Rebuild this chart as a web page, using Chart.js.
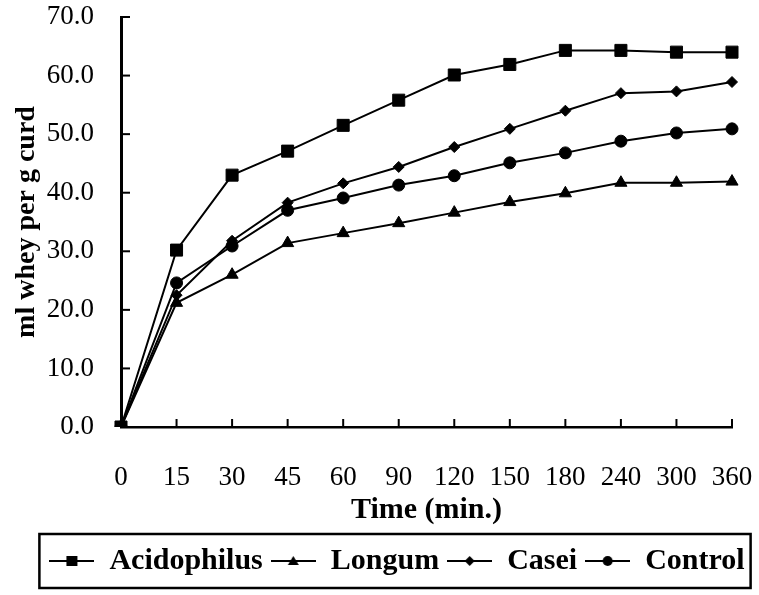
<!DOCTYPE html>
<html>
<head>
<meta charset="utf-8">
<script src="https://cdn.jsdelivr.net/npm/chart.js@4/dist/chart.umd.min.js"></script>
<style>
  html, body { margin: 0; padding: 0; background: #fff; }
  #wrap { width: 759px; height: 595px; }
</style>
</head>
<body>
<div id="wrap"><canvas id="wheyChart"></canvas></div>
<script>
// Whey released over time
const times = ['0', '15', '30', '45', '60', '90', '120', '150', '180', '240', '300', '360'];
const acidophilus = [0, 30.2, 43.0, 47.1, 51.5, 55.8, 60.1, 61.9, 64.3, 64.3, 64.0, 64.0];
const longum = [0, 21.2, 26.0, 31.4, 33.1, 34.8, 36.6, 38.4, 39.9, 41.7, 41.7, 41.9];
const casei = [0, 22.5, 31.8, 38.3, 41.6, 44.4, 47.8, 50.9, 54.0, 57.0, 57.3, 58.9];
const control = [0, 24.6, 30.9, 37.0, 39.1, 41.3, 42.9, 45.1, 46.8, 48.8, 50.2, 50.9];
const yTicks = [0, 10, 20, 30, 40, 50, 60, 70];

const serif = "'Liberation Serif', 'Times New Roman', serif";

// small legend icon: line with the marker in the middle
function legendIcon(style) {
    const c = document.createElement('canvas');
    c.width = 45; c.height = 16;
    const g = c.getContext('2d');
    g.fillStyle = '#000';
    g.strokeStyle = '#000';
    g.lineWidth = 2;
    g.beginPath(); g.moveTo(0, 8); g.lineTo(45, 8); g.stroke();
    g.beginPath();
    if (style === 'rect') g.rect(17, 3, 11, 10);
    else if (style === 'triangle') { g.moveTo(22.5, 3); g.lineTo(28, 12); g.lineTo(17, 12); g.closePath(); }
    else if (style === 'rectRot') { g.moveTo(22.5, 3); g.lineTo(27.5, 8); g.lineTo(22.5, 13); g.lineTo(17.5, 8); g.closePath(); }
    else g.arc(22.5, 8, 5, 0, Math.PI * 2);
    g.fill();
    return c;
}

function series(label, data, style, radius) {
    return {
        label: label,
        data: data,
        borderColor: '#000',
        backgroundColor: '#000',
        borderWidth: 2,
        pointStyle: style,
        pointRadius: radius,
        pointHoverRadius: radius,
        pointBackgroundColor: '#000',
        pointBorderColor: '#000',
        pointBorderWidth: 1,
        tension: 0,
        fill: false,
        icon: legendIcon(style)
    };
}

// inward tick marks and the frame around the legend
const extras = {
    id: 'extras',
    afterDraw(chart) {
        const ctx = chart.ctx;
        const x = chart.scales.x, y = chart.scales.y;
        ctx.save();
        ctx.strokeStyle = '#000';
        ctx.lineWidth = 2;
        y.ticks.forEach((t, i) => {
            const py = y.getPixelForTick(i);
            ctx.beginPath(); ctx.moveTo(y.right, py); ctx.lineTo(y.right + 9, py); ctx.stroke();
        });
        x.ticks.forEach((t, i) => {
            const px = x.getPixelForTick(i);
            ctx.beginPath(); ctx.moveTo(px, x.top); ctx.lineTo(px, x.top - 8); ctx.stroke();
        });
        const boxes = chart.legend.legendHitBoxes;
        if (boxes && boxes.length) {
            let l = Infinity, r = -Infinity, t = Infinity, b = -Infinity;
            boxes.forEach(h => {
                l = Math.min(l, h.left); r = Math.max(r, h.left + h.width);
                t = Math.min(t, h.top); b = Math.max(b, h.top + h.height);
            });
            ctx.lineWidth = 2.5;
            ctx.strokeRect(l - 10, t - 12, (r - l) + 16, (b - t) + 24);
        }
        ctx.restore();
    }
};

new Chart(document.getElementById('wheyChart').getContext('2d'), {
    type: 'line',
    data: {
        labels: times,
        datasets: [
            series('Acidophilus', acidophilus, 'rect', 8.5),
            series('Longum', longum, 'triangle', 7),
            series('Casei', casei, 'rectRot', 5.5),
            series('Control', control, 'circle', 6)
        ]
    },
    options: {
        responsive: true,
        maintainAspectRatio: false,
        animation: false,
        layout: { padding: { left: 35, right: 0, top: 17, bottom: 9 } },
        plugins: {
            tooltip: { enabled: false },
            legend: {
                position: 'bottom',
                labels: {
                    usePointStyle: true,
                    pointStyleWidth: 45,
                    padding: 8,
                    color: '#000',
                    font: { family: serif, size: 30, weight: 'bold' },
                    generateLabels(chart) {
                        return chart.data.datasets.map((ds, i) => ({
                            text: ds.label,
                            pointStyle: ds.icon,
                            fillStyle: '#000',
                            strokeStyle: '#000',
                            fontColor: '#000',
                            lineWidth: 0,
                            hidden: false,
                            datasetIndex: i
                        }));
                    }
                }
            }
        },
        scales: {
            x: {
                grid: { display: false, drawTicks: false },
                border: { display: true, color: '#000', width: 2.5 },
                ticks: {
                    color: '#000',
                    padding: 35,
                    autoSkip: false,
                    maxRotation: 0,
                    font: { family: serif, size: 27 }
                },
                title: {
                    display: true,
                    text: 'Time (min.)',
                    color: '#000',
                    padding: { top: 0, bottom: 10 },
                    font: { family: serif, size: 30, weight: 'bold' }
                },
                afterFit(scale) {
                    scale.height = 111;
                    scale.paddingLeft = 0;
                    scale.paddingRight = 27;
                }
            },
            y: {
                min: 0,
                max: 70,
                afterBuildTicks(scale) { scale.ticks = yTicks.map(v => ({ value: v })); },
                grid: { display: false, drawTicks: false },
                border: { display: true, color: '#000', width: 3 },
                ticks: {
                    color: '#000',
                    padding: 27,
                    font: { family: serif, size: 27 },
                    callback: v => Number(v).toFixed(1)
                },
                title: {
                    display: true,
                    text: 'ml whey per g curd',
                    color: '#000',
                    padding: { top: -25, bottom: 0 },
                    font: { family: serif, size: 28, weight: 'bold' }
                },
                afterFit(scale) {
                    scale.width = 86;
                    scale.paddingTop = 0;
                    scale.paddingBottom = 0;
                }
            }
        }
    },
    plugins: [extras]
});
</script>
</body>
</html>
